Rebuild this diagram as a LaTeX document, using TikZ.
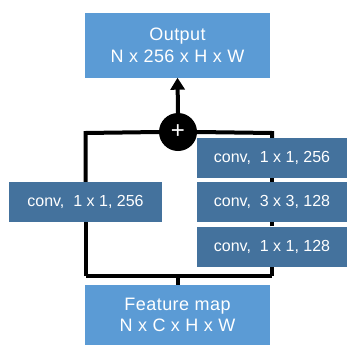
\documentclass[tikz,border=0pt]{standalone}
\usepackage{fontspec}
\setmainfont{Liberation Sans}
\usetikzlibrary{arrows.meta,positioning,backgrounds}
\definecolor{lightblk}{RGB}{91,155,213}
\definecolor{darkblk}{RGB}{68,114,157}
\begin{document}
\begin{tikzpicture}[x=1pt,y=-1pt,line join=round,
	blk/.style={fill=lightblk,text=white,inner sep=0pt,minimum width=185pt,minimum height=64pt,align=center,font=\fontsize{18}{21.6}\selectfont\addfontfeatures{LetterSpace=2.5}},
	conv/.style={fill=darkblk,text=white,inner sep=0pt,minimum width=152pt,minimum height=40pt,font=\fontsize{16}{17}\selectfont},
	wire/.style={line width=4pt}]
	\useasboundingbox (0,0) rectangle (347,345);
	% bloques
	\node[blk] (out) at (177.5,45.5) {Output\\N x 256 x H x W};
	\node[blk,minimum height=60pt] (feat) at (177.5,315) {Feature map\\N x C x H x W};
	\node[conv,minimum width=153pt] (sc) at (85.5,202) {conv,\ \ 1 x 1, 256};
	\node[conv,minimum width=150pt] (c1) at (272,158) {conv,\ \ 1 x 1, 256};
	\node[conv,minimum width=150pt] (c2) at (272,202) {conv,\ \ 3 x 3, 128};
	\node[conv,minimum width=150pt] (c3) at (272,246.5) {conv,\ \ 1 x 1, 128};
	\node[circle,fill=black,text=white,minimum size=38pt,inner sep=0pt,font=\fontsize{24}{24}\selectfont] (plus) at (178,132) {+};
	% lazo
	\coordinate (bm) at (177.5,276);
	\coordinate (bl) at (85.5,276);
	\coordinate (br) at (272,276);
	\coordinate (tl) at (85.5,133);
	\coordinate (tr) at (272,133);
	\begin{scope}[on background layer]
	\draw[wire] (feat.north) -- (bm);
	\draw[wire] (bl) -- (br);
	\draw[wire] (bl) -- (sc.south);
	\draw[wire] (sc.north) -- (tl) -- (plus.west);
	\draw[wire] (br) -- (c3.south);
	\draw[wire] (c3.north) -- (c2.south);
	\draw[wire] (c2.north) -- (c1.south);
	\draw[wire] (c1.north) -- (tr) -- (plus.east);
	\end{scope}
	\draw[wire,-{Triangle[width=14pt,length=12pt]}] (plus.north) -- (out.south);
\end{tikzpicture}
\end{document}
